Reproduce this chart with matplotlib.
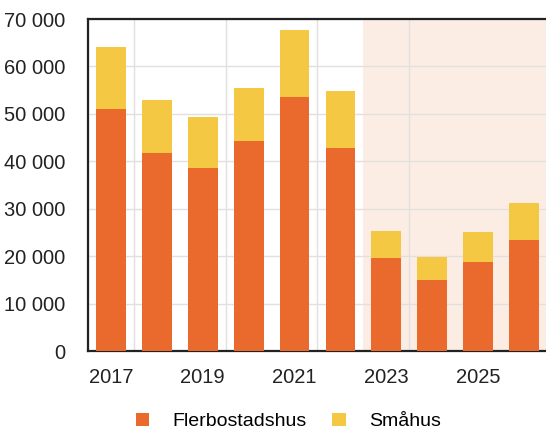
import matplotlib
matplotlib.use("Agg")
import matplotlib.pyplot as plt
from matplotlib.ticker import FuncFormatter, FixedLocator

years = [2017, 2018, 2019, 2020, 2021, 2022, 2023, 2024, 2025, 2026]
flerbostadshus = [51000, 41700, 38500, 44300, 53600, 42900, 19600, 15000, 18800, 23400]
totals = [64000, 53000, 49400, 55400, 67700, 54900, 25200, 19900, 25000, 31300]
smahus = [t - f for t, f in zip(totals, flerbostadshus)]
labels = ["Flerbostadshus", "Småhus"]
xtick_years = [2017, 2019, 2021, 2023, 2025]
forecast_start = 2022.5

c_orange = "#EA6A2E"
c_yellow = "#F5C843"
c_shade = "#FBEDE4"

plt.rcParams["font.family"] = ["Liberation Sans", "DejaVu Sans"]

fig = plt.figure(figsize=(5.46, 4.30), dpi=100)
ax = fig.add_axes([0.161, 0.1837, 0.841, 0.7721])

ax.axvspan(forecast_start, years[-1] + 0.5, color=c_shade, zorder=0, lw=0)

ax.bar(years, flerbostadshus, width=0.65, color=c_orange, zorder=3, label=labels[0])
ax.bar(years, smahus, width=0.65, bottom=flerbostadshus, color=c_yellow, zorder=3, label=labels[1])

ax.set_xlim(years[0] - 0.5, years[-1] + 0.5)
ax.set_ylim(0, 70000)
ax.set_yticks(range(0, 70001, 10000))
ax.yaxis.set_major_formatter(FuncFormatter(lambda v, p: f"{int(v):,}".replace(",", " ")))
ax.set_xticks(xtick_years)
ax.xaxis.set_minor_locator(FixedLocator([y + 0.5 for y in xtick_years[:-1]] + [2016.5]))

ax.grid(axis="y", color="#E3DFDD", lw=1.0, zorder=1)
ax.grid(axis="x", which="minor", color="#E3DFDD", lw=1.0, zorder=1)
ax.grid(axis="x", which="major", visible=False)
ax.set_axisbelow(True)

ax.tick_params(axis="both", which="both", length=0, labelsize=14.5, colors="#222222")
ax.tick_params(axis="y", pad=16)
ax.tick_params(axis="x", pad=12)

for s in ["left", "top", "bottom"]:
    ax.spines[s].set_color("#222222")
    ax.spines[s].set_linewidth(1.6)
ax.spines["right"].set_visible(False)

fig.legend(loc="center", bbox_to_anchor=(0.528, 0.02), ncol=2, frameon=False,
           fontsize=14, handlelength=0.7, handleheight=0.7, columnspacing=1.3,
           handletextpad=1.2)

fig.savefig("out.png", dpi=100)
